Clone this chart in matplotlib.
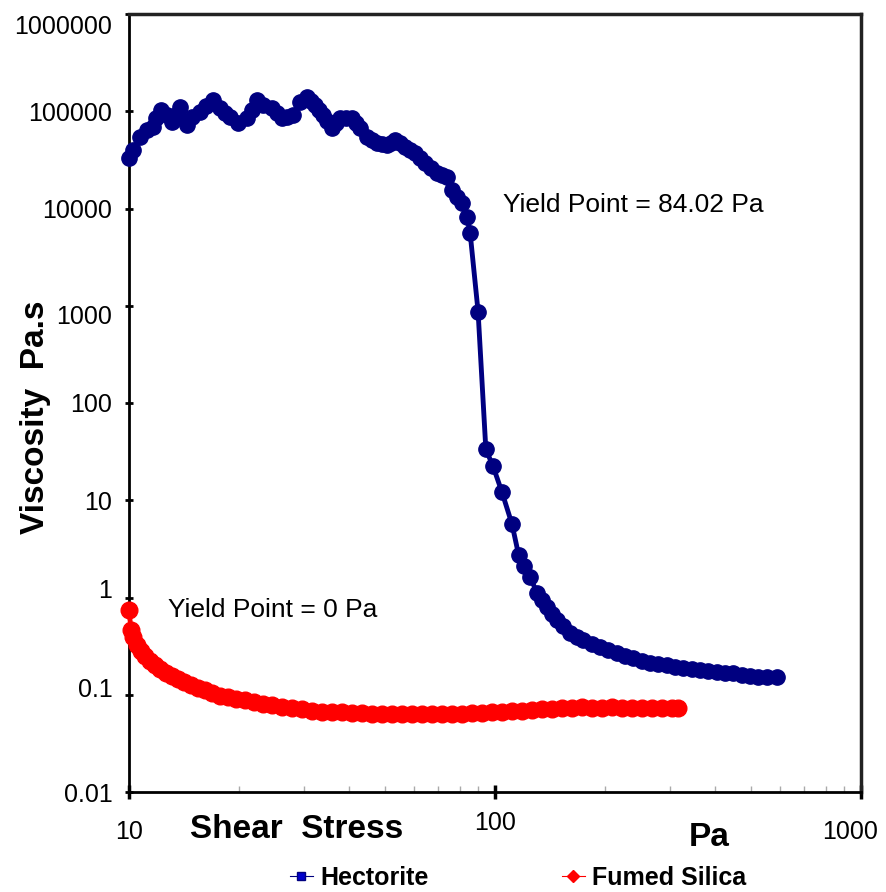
import matplotlib
matplotlib.use("Agg")
import matplotlib.pyplot as plt
from matplotlib.lines import Line2D
from matplotlib.ticker import FixedLocator, NullFormatter, NullLocator
from matplotlib.transforms import ScaledTranslation

plt.rcParams['font.family'] = ['Liberation Sans', 'DejaVu Sans']

# ---- data ----
hectorite_stress = [10.0, 10.25, 10.7, 11.2, 11.6, 11.85, 12.2, 12.7, 13.1, 13.44, 13.8, 14.4,
                    14.9, 15.6, 16.23, 17.0, 17.7, 18.3, 18.9, 19.9, 21.0, 21.69, 22.4, 23.2,
                    24.6, 25.38, 26.2, 27.03, 28.1, 29.3, 30.6, 31.43, 32.2, 33.04, 33.9,
                    34.75, 35.9, 36.78, 37.7, 39.17, 40.7, 41.72, 42.8, 44.7, 46.12, 47.6,
                    49.12, 50.7, 51.97, 53.3, 55.02, 56.8, 58.6, 60.4, 62.39, 64.4, 66.86,
                    69.5, 71.65, 74.0, 76.4, 78.74, 81.3, 83.8, 85.5, 89.9, 94.4,
                    98.8, 104.5, 111.3, 116.0, 120.0, 124.7, 130.3, 134.4, 138.6, 143.2,
                    147.6, 153.5, 160.3, 167.5, 174.0, 184.0, 193.6, 203.7, 215.4, 226.5,
                    238.2, 252.2, 265.0, 278.6, 294.8, 310.2, 326.3, 345.3, 363.1, 381.9,
                    404.2, 424.9, 446.9, 472.8, 497.4, 523.2, 553.5, 590.2]
hectorite_visc = [33300, 40200, 54600, 64400, 69200, 85200, 103000, 91800, 77900, 91500, 111000,
                  72500, 87600, 98600, 113200, 131000, 108000, 95900, 87600, 76000, 85500,
                  103000, 131000, 116000, 108000, 95900, 85500, 87300, 91800, 125000, 141000,
                  127400, 116000, 103000, 91800, 79400, 67600, 75700, 85500, 85300, 85500,
                  75700, 67600, 54600, 50600, 47400, 46000, 45200, 47200, 50800, 47200, 43100,
                  40000, 37400, 33100, 29500, 26100, 23300, 22100, 21200, 15600, 13100, 11500,
                  8240, 5650, 871, 33.4, 22.3, 12.1, 5.67, 2.75, 2.11, 1.63, 1.11,
                  0.94, 0.80, 0.676, 0.587, 0.509, 0.431, 0.393, 0.366, 0.333, 0.310, 0.288,
                  0.269, 0.250, 0.239, 0.222, 0.212, 0.207, 0.202, 0.193, 0.188, 0.184, 0.180,
                  0.175, 0.171, 0.167, 0.167, 0.160, 0.156, 0.152, 0.152, 0.152]

silica_stress = [10.00, 10.13, 10.25, 10.52, 10.78, 11.06, 11.41, 11.78, 12.16, 12.62, 13.11,
                 13.61, 14.13, 14.77, 15.43, 16.13, 16.86, 17.73, 18.64, 19.60, 20.75, 21.96,
                 23.24, 24.59, 26.18, 27.88, 29.69, 31.62, 33.68, 35.86, 38.19, 40.67, 43.31,
                 46.12, 49.12, 52.31, 55.71, 59.33, 63.18, 67.28, 71.65, 76.31, 81.26, 86.54,
                 92.16, 98.13, 104.5, 111.3, 118.5, 126.2, 134.4, 143.2, 152.4, 162.3, 172.9,
                 184.1, 196.1, 208.8, 222.3, 236.8, 252.1, 268.5, 285.9, 304.5, 316.2]
silica_visc = [0.745, 0.463, 0.393, 0.325, 0.282, 0.250, 0.222, 0.202, 0.184, 0.167, 0.156,
               0.145, 0.135, 0.126, 0.117, 0.112, 0.104, 0.0971, 0.0948, 0.0904, 0.0884,
               0.0842, 0.0804, 0.0785, 0.0748, 0.0731, 0.0713, 0.0681, 0.0665, 0.0665,
               0.0665, 0.0649, 0.0649, 0.0634, 0.0634, 0.0634, 0.0634, 0.0634, 0.0634,
               0.0634, 0.0634, 0.0634, 0.0634, 0.0649, 0.0649, 0.0665, 0.0665, 0.0681,
               0.0681, 0.0697, 0.0713, 0.0713, 0.0731, 0.0731, 0.0748, 0.0731, 0.0731,
               0.0748, 0.0731, 0.0731, 0.0731, 0.0731, 0.0731, 0.0731, 0.0731]

y_ticks = [0.01, 0.1, 1, 10, 100, 1000, 10000, 100000, 1000000]
y_tick_labels = ['0.01', '0.1', '1', '10', '100', '1000', '10000', '100000', '1000000']
x_ticks = [10, 100, 1000]
x_tick_labels = ['10', '100', '1000']

NAVY = '#000080'
RED = '#FF0000'

fig = plt.figure(figsize=(8.86, 8.92), dpi=100)
ax = fig.add_axes([129 / 886, 1 - 792 / 892, (861 - 129) / 886, (792 - 14) / 892])
ax.set_xscale('log')
ax.set_yscale('log')
ax.set_xlim(10, 1000)
ax.set_ylim(0.01, 1e6)

ax.plot(hectorite_stress, hectorite_visc, color=NAVY, lw=3.5, marker='o', ms=11,
        mec=NAVY, mfc=NAVY, clip_on=False, zorder=3)
ax.plot(silica_stress, silica_visc, color=RED, lw=3.5, marker='o', ms=12,
        mec=RED, mfc=RED, clip_on=False, zorder=3)

# y axis ticks
ax.yaxis.set_major_locator(FixedLocator(y_ticks))
ax.set_yticklabels(y_tick_labels)
ax.yaxis.set_minor_locator(NullLocator())
ax.tick_params(axis='y', which='major', direction='inout', length=6, width=2,
               pad=9, labelsize=18)
# small vertical offsets of some labels, as in the original
label_shift_px = {'1000000': -10, '1000': -9, '1': 9, '0.1': 7}
for lab in ax.get_yticklabels():
    dy = label_shift_px.get(lab.get_text(), 0)
    if dy:
        lab.set_transform(lab.get_transform() +
                          ScaledTranslation(0, dy / 100, fig.dpi_scale_trans))

# x axis ticks
ax.xaxis.set_major_locator(FixedLocator(x_ticks))
ax.xaxis.set_major_formatter(NullFormatter())
ax.xaxis.set_minor_formatter(NullFormatter())
ax.tick_params(axis='x', which='major', direction='inout', length=10, width=2.5)
ax.tick_params(axis='x', which='minor', direction='in', length=4, width=1, color='#aaaaaa')

xt = ax.get_xaxis_transform()
offsets = [(0, -28.8), (0, -22.3), (-7.9, -28.8)]
for v, lab, off in zip(x_ticks, x_tick_labels, offsets):
    ax.annotate(lab, xy=(v, 0), xycoords=xt, xytext=off, textcoords='offset points',
                ha='center', va='center', fontsize=18, annotation_clip=False)

for s in ['left', 'bottom']:
    ax.spines[s].set_linewidth(2)
    ax.spines[s].set_color('black')
for s in ['top', 'right']:
    ax.spines[s].set_linewidth(2.5)
    ax.spines[s].set_color('#222222')

# axis titles
fig.text(297 / 886, 1 - 830 / 892, 'Shear  Stress', fontsize=24, fontweight='bold',
         ha='center', va='center')
fig.text(709 / 886, 1 - 838 / 892, 'Pa', fontsize=24, fontweight='bold',
         ha='center', va='center')
fig.text(36 / 886, 1 - 417 / 892, 'Viscosity  Pa.s', fontsize=24, fontweight='bold',
         ha='center', va='center', rotation=90)

# annotations
fig.text(503 / 886, 1 - 205 / 892, 'Yield Point = 84.02 Pa', fontsize=19,
         ha='left', va='center')
fig.text(168 / 886, 1 - 610 / 892, 'Yield Point = 0 Pa', fontsize=19,
         ha='left', va='center')

# legend
leg_y = 1 - 878 / 892
h1 = Line2D([], [], color=NAVY, lw=0.8, marker='s', ms=6, mec=NAVY, mfc='#0000cc')
h2 = Line2D([], [], color=RED, lw=0.8, marker='D', ms=6, mec=RED, mfc=RED)
for h, lab, x0 in [(h1, 'Hectorite', 290 / 886), (h2, 'Fumed Silica', 562 / 886)]:
    fig.legend([h], [lab], loc='center left', bbox_to_anchor=(x0, leg_y), frameon=False,
               borderpad=0, borderaxespad=0, handlelength=0.9, handletextpad=0.3,
               prop={'weight': 'bold', 'size': 18})

fig.savefig('out.png', dpi=100)
